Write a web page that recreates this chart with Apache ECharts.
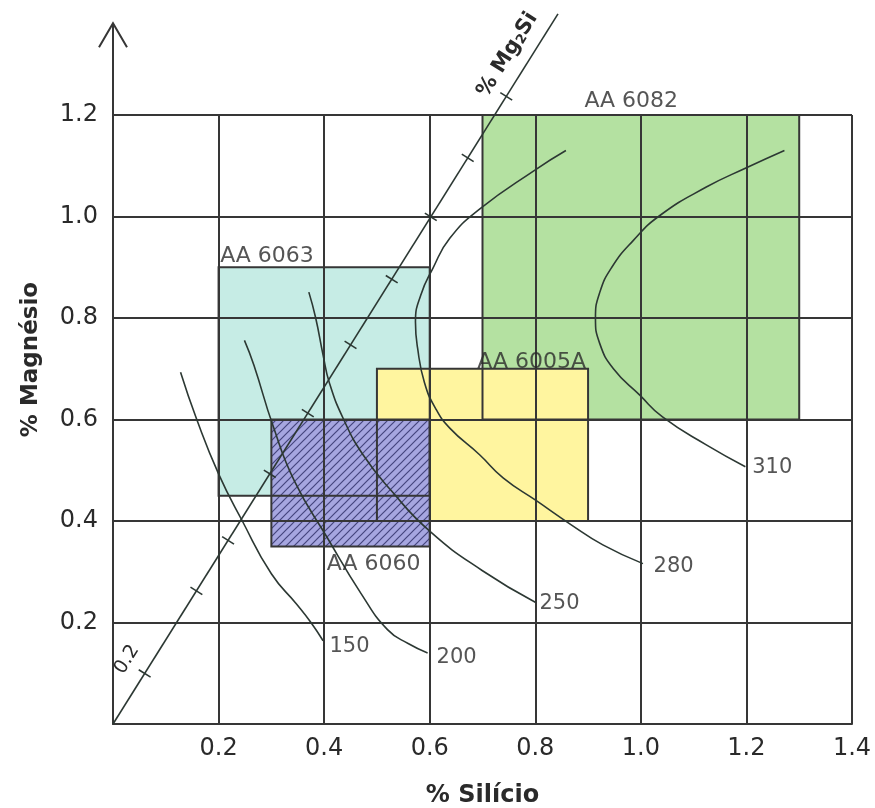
<!DOCTYPE html>
<html>
<head>
<meta charset="utf-8">
<script src="https://cdn.jsdelivr.net/npm/echarts@6/dist/echarts.min.js"></script>
<style>
html,body{margin:0;padding:0;background:#fff;}
#chart{width:875px;height:808px;}
</style>
</head>
<body>
<div id="chart"></div>
<script>
// ---- axis ticks ----
const xTickLabels = ['0.2', '0.4', '0.6', '0.8', '1.0', '1.2', '1.4'];
const yTickLabels = ['0.2', '0.4', '0.6', '0.8', '1.0', '1.2'];

// ---- alloy boxes (Si range, Mg range) ----
const boxNames = ['AA 6082', 'AA 6063', 'AA 6005A', 'AA 6060'];
const boxSiMin = [0.7, 0.2, 0.5, 0.3];
const boxSiMax = [1.3, 0.6, 0.9, 0.6];
const boxMgMin = [0.6, 0.45, 0.4, 0.35];
const boxMgMax = [1.2, 0.9, 0.7, 0.6];
// label anchors (left, middle)
const boxLabelSi = [0.893, 0.203, 0.69, 0.405];
const boxLabelMg = [1.227, 0.922, 0.713, 0.315];

// ---- strength isolines ----
const curveNames = ['150', '200', '250', '280', '310'];
const curve150 = [[0.128,0.693],[0.158,0.602],[0.2,0.493],[0.245,0.4],[0.3,0.296],[0.348,0.236],[0.375,0.2],[0.398,0.164]];
const curve200 = [[0.249,0.756],[0.267,0.707],[0.303,0.588],[0.344,0.478],[0.406,0.367],[0.47,0.257],[0.52,0.186],[0.56,0.158],[0.596,0.14]];
const curve250 = [[0.371,0.851],[0.384,0.8],[0.398,0.727],[0.41,0.672],[0.437,0.6],[0.474,0.53],[0.527,0.46],[0.6,0.38],[0.7,0.302],[0.8,0.24]];
const curve280 = [[0.858,1.13],[0.8,1.092],[0.695,1.015],[0.638,0.957],[0.606,0.898],[0.583,0.845],[0.573,0.792],[0.577,0.741],[0.59,0.673],[0.611,0.622],[0.638,0.583],[0.695,0.53],[0.739,0.485],[0.802,0.44],[0.866,0.394],[0.928,0.353],[1.004,0.316]];
const curve310 = [[1.272,1.13],[1.2,1.096],[1.124,1.058],[1.036,1.002],[0.985,0.952],[0.945,0.9],[0.922,0.85],[0.914,0.8],[0.922,0.75],[0.948,0.7],[0.998,0.648],[1.041,0.605],[1.124,0.55],[1.198,0.507]];
const curveLabelSi = [0.41, 0.613, 0.808, 1.024, 1.211];
const curveLabelMg = [0.152, 0.13, 0.237, 0.31, 0.506];

// ---- Mg2Si line ----
const mg2siSlope = 1.66;
const mg2siEndSi = 0.843;
const mg2siTicksSi = [0.06, 0.158, 0.218, 0.297, 0.369, 0.45, 0.528, 0.602, 0.672, 0.745];
const mg2siLabelPos = [0.745, 1.32];
const mg2siScaleLabel = '0.2';
const mg2siScaleLabelPos = [0.0265, 0.127];
const arrowTopMg = 1.381;

const GRID_COLOR = '#363636';
const TEXT_COLOR = '#2a2a2a';
const FONT = 'DejaVu Sans';

// hatch pattern for AA 6060
function makeHatch() {
  const c = document.createElement('canvas');
  c.width = 8; c.height = 8;
  const g = c.getContext('2d');
  g.fillStyle = '#a6a6e0';
  g.fillRect(0, 0, 8, 8);
  g.strokeStyle = '#45457e';
  g.lineWidth = 1.2;
  g.beginPath();
  g.moveTo(-1, 9); g.lineTo(9, -1);
  g.moveTo(-1, 1); g.lineTo(1, -1);
  g.moveTo(7, 9); g.lineTo(9, 7);
  g.stroke();
  return c;
}
const hatch = makeHatch();
const boxFills = ['#b4e1a1', '#c6ece5', '#fff59f', { image: hatch, repeat: 'repeat' }];

const boxData = boxNames.map((n, i) => [boxSiMin[i], boxSiMax[i], boxMgMin[i], boxMgMax[i], i]);

function rectItem(params, api, fill) {
  const p1 = api.coord([api.value(0), api.value(3)]);
  const p2 = api.coord([api.value(1), api.value(2)]);
  return {
    type: 'rect',
    shape: { x: p1[0], y: p1[1], width: p2[0] - p1[0], height: p2[1] - p1[1] },
    style: fill ? { fill: boxFills[api.value(4)], stroke: null } : { fill: null, stroke: GRID_COLOR, lineWidth: 2 }
  };
}

const curves = [curve150, curve200, curve250, curve280, curve310];

const series = [
  {
    type: 'custom', name: 'fills', z: 1, clip: false,
    encode: { x: [0, 1], y: [2, 3] },
    data: boxData,
    renderItem: (p, api) => rectItem(p, api, true)
  },
  {
    type: 'custom', name: 'borders', z: 4, clip: false,
    encode: { x: [0, 1], y: [2, 3] },
    data: boxData,
    renderItem: (p, api) => rectItem(p, api, false)
  }
];

curves.forEach((c, i) => {
  series.push({
    type: 'line', name: curveNames[i], data: c, smooth: 0.5, showSymbol: false, symbol: 'none',
    z: 5, clip: false, silent: true,
    lineStyle: { color: '#2c3833', width: 1.6 }
  });
});

series.push({
  type: 'line', name: 'Mg2Si', z: 5, clip: false, symbol: 'none', silent: true,
  data: [[0, 0], [mg2siEndSi, mg2siEndSi * mg2siSlope]],
  lineStyle: { color: '#2c3833', width: 1.6 }
});

// labels series (box labels + curve labels)
series.push({
  type: 'scatter', z: 6, clip: false, symbolSize: 0, silent: true,
  data: boxNames.map((n, i) => ({ value: [boxLabelSi[i], boxLabelMg[i]], name: n })),
  label: { show: true, position: 'right', distance: 0, formatter: '{b}', color: TEXT_COLOR, fontFamily: FONT, fontSize: 22 }
});
series.push({
  type: 'scatter', z: 6, clip: false, symbolSize: 0, silent: true,
  data: curveNames.map((n, i) => ({ value: [curveLabelSi[i], curveLabelMg[i]], name: n })),
  label: { show: true, position: 'right', distance: 0, formatter: '{b}', color: TEXT_COLOR, fontFamily: FONT, fontSize: 21 }
});

const chart = echarts.init(document.getElementById('chart'), null, { renderer: 'canvas' });

const axisCommon = {
  type: 'value', z: 3,
  axisLine: { show: true, onZero: false, lineStyle: { color: GRID_COLOR, width: 2 } },
  axisTick: { show: false },
  splitLine: { show: true, lineStyle: { color: GRID_COLOR, width: 2 } }
};

chart.setOption({
  animation: false,
  backgroundColor: '#fff',
  grid: { left: 113, right: 23, top: 115, bottom: 84, containLabel: false, outerBoundsMode: 'none' },
  xAxis: Object.assign({}, axisCommon, {
    min: 0, max: 1.4, interval: 0.2,
    name: '% Silício', nameLocation: 'middle', nameGap: 60,
    nameTextStyle: { color: TEXT_COLOR, fontFamily: FONT, fontWeight: 'bold', fontSize: 24 },
    axisLabel: { margin: 13, color: TEXT_COLOR, fontFamily: FONT, fontSize: 24, showMinLabel: false,
      formatter: v => { const i = Math.round(v / 0.2) - 1; return i >= 0 ? xTickLabels[i] : ''; } }
  }),
  yAxis: Object.assign({}, axisCommon, {
    min: 0, max: 1.2, interval: 0.2,
    name: '% Magnésio', nameLocation: 'middle', nameGap: 70,
    nameTextStyle: { color: TEXT_COLOR, fontFamily: FONT, fontWeight: 'bold', fontSize: 23, padding: [0, 0, 0, 120] },
    axisLabel: { margin: 15, color: TEXT_COLOR, fontFamily: FONT, fontSize: 24, showMinLabel: false,
      formatter: v => { const i = Math.round(v / 0.2) - 1; return i >= 0 ? yTickLabels[i] : ''; } }
  }),
  series: series
});

// ticks along Mg2Si line & decorations (positions derived from the axes)
const p0 = chart.convertToPixel({ gridIndex: 0 }, [0, 0]);
const p1 = chart.convertToPixel({ gridIndex: 0 }, [mg2siEndSi, mg2siEndSi * mg2siSlope]);
const ang = Math.atan2(-(p1[1] - p0[1]), p1[0] - p0[0]);

const gfx = [];
// y axis arrow
const pb = chart.convertToPixel({ gridIndex: 0 }, [0, 1.2]);
const pt = chart.convertToPixel({ gridIndex: 0 }, [0, arrowTopMg]);
gfx.push({ type: 'polyline', z: 10, shape: { points: [pb, pt] }, style: { stroke: GRID_COLOR, lineWidth: 2, fill: null } });
gfx.push({ type: 'polyline', z: 10, shape: { points: [[pt[0] - 14, pt[1] + 24], pt, [pt[0] + 14, pt[1] + 24]] }, style: { stroke: GRID_COLOR, lineWidth: 2, fill: null } });

// tick marks
mg2siTicksSi.forEach(s => {
  const p = chart.convertToPixel({ gridIndex: 0 }, [s, s * mg2siSlope]);
  const nx = Math.sin(ang), ny = Math.cos(ang);
  gfx.push({ type: 'line', z: 10, shape: { x1: p[0] - nx * 7, y1: p[1] - ny * 7, x2: p[0] + nx * 7, y2: p[1] + ny * 7 },
    style: { stroke: '#2c3833', lineWidth: 1.6 } });
});

const lp = chart.convertToPixel({ gridIndex: 0 }, mg2siLabelPos);
gfx.push({
  type: 'text', z: 10, x: lp[0], y: lp[1], rotation: ang,
  style: {
    text: '{a|% Mg}{b|2}{a|Si}', align: 'center', verticalAlign: 'middle',
    rich: {
      a: { fontFamily: FONT, fontWeight: 'bold', fontSize: 21, fill: TEXT_COLOR, verticalAlign: 'bottom', lineHeight: 24 },
      b: { fontFamily: FONT, fontWeight: 'bold', fontSize: 13, fill: TEXT_COLOR, verticalAlign: 'bottom', lineHeight: 14 }
    }
  }
});
const sp = chart.convertToPixel({ gridIndex: 0 }, mg2siScaleLabelPos);
gfx.push({
  type: 'text', z: 10, x: sp[0], y: sp[1], rotation: ang,
  style: { text: mg2siScaleLabel, align: 'center', verticalAlign: 'middle', fontFamily: FONT, fontSize: 19, fill: TEXT_COLOR }
});

chart.setOption({ graphic: gfx });
</script>
</body>
</html>
